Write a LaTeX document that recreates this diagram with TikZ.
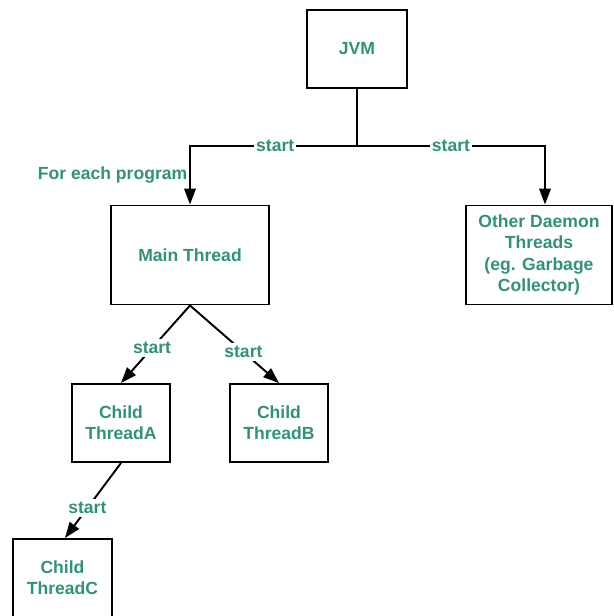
\documentclass[tikz,border=0pt]{standalone}
\usepackage{fontspec}
\setmainfont{Liberation Sans}
\usetikzlibrary{arrows.meta}
\definecolor{lblgreen}{RGB}{48,146,122}

\begin{document}
\begin{tikzpicture}[
  box/.style={draw, line width=1.1pt, align=center, text=lblgreen, font=\fontsize{10}{12}\selectfont\bfseries},
  lbl/.style={text=lblgreen, font=\fontsize{10}{12}\selectfont\bfseries, fill=white, inner sep=1pt},
  conn/.style={line width=1.1pt, -{Triangle[length=9pt,width=6.5pt]}}
]
\useasboundingbox (0,0) rectangle (12.26,12.32);
\node[box, minimum width=2cm, minimum height=1.56cm] (jvm) at (7.14,11.34) {JVM};
\node[box, minimum width=3.16cm, minimum height=1.98cm] (main) at (3.80,7.22) {Main Thread};
\node[box, minimum width=2.92cm, minimum height=1.98cm] (daemon) at (10.78,7.22) {Other Daemon\\Threads\\(eg. Garbage\\Collector)};
\node[box, minimum width=1.96cm, minimum height=1.56cm] (childA) at (2.42,3.86) {Child\\ThreadA};
\node[box, minimum width=1.96cm, minimum height=1.56cm] (childB) at (5.58,3.86) {Child\\ThreadB};
\node[box, minimum width=1.98cm, minimum height=1.56cm] (childC) at (1.25,0.76) {Child\\ThreadC};
\coordinate (split) at (7.14,9.40);
\draw[line width=1.1pt] (jvm.south) -- (split);
\draw[conn] (split) -| node[lbl, pos=0.245] (startmain) {start}
  node[lbl, pos=0.75, anchor=east, fill=none] (prog) {For each program} (main.north);
\draw[conn] (split) -| node[lbl, pos=0.25] (startdaemon) {start} ([xshift=1.2mm]daemon.north);
\draw[conn] (main.south) -- node[lbl, pos=0.55, inner sep=2pt] (startA) {start} (childA.north);
\draw[conn] (main.south) -- node[lbl, pos=0.6, inner sep=2pt] (startB) {start} (childB.north);
\draw[conn] (childA.south) -- node[lbl, pos=0.6, inner sep=2pt] (startC) {start} ([xshift=0.5mm]childC.north);
\end{tikzpicture}
\end{document}
